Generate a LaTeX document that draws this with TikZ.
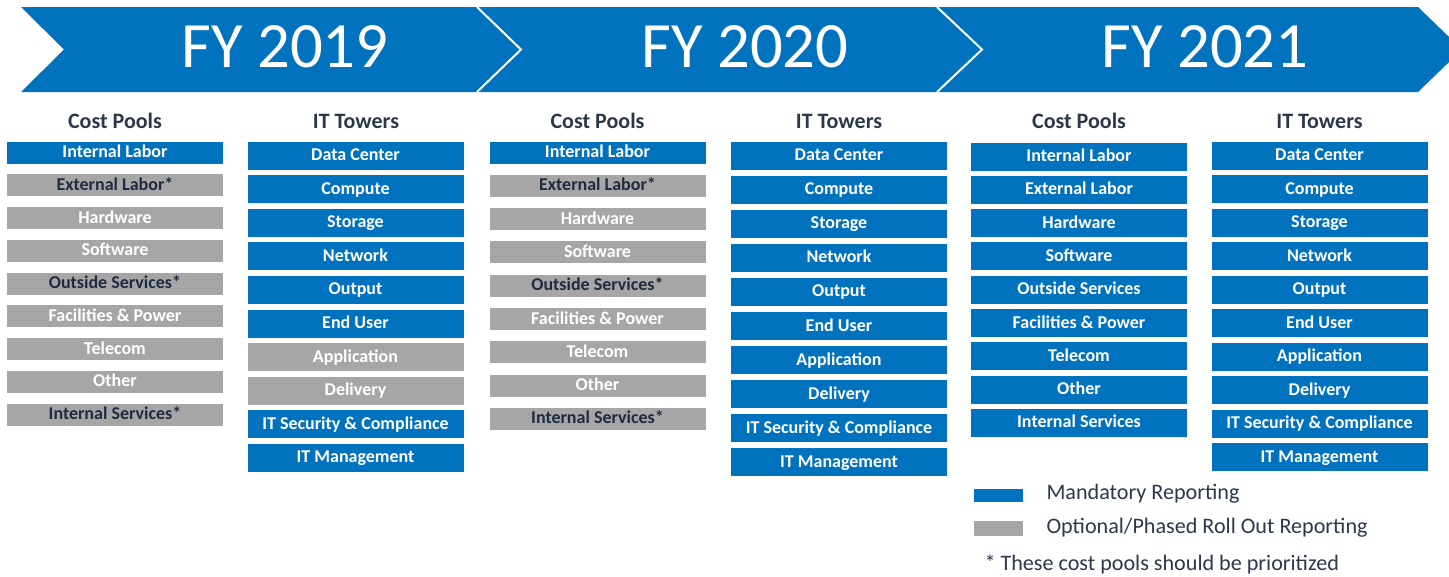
\documentclass[tikz,border=0pt]{standalone}
\usepackage{fontspec}
\setmainfont{Carlito}

\definecolor{fyblue}{RGB}{0,114,190}
\definecolor{fygray}{RGB}{166,166,166}
\definecolor{navytext}{RGB}{31,43,62}
\definecolor{slatetext}{RGB}{44,56,74}

\tikzset{every picture/.style={line width=0.75pt}}
\tikzset{
  mandbox/.style={fill=fyblue, text=white, font=\bfseries\fontsize{13.5}{15}\selectfont, minimum width=162pt, inner sep=0pt, text height=8.5pt, text depth=1pt},
  optbox/.style={mandbox, fill=fygray},
  optstar/.style={optbox, text=navytext},
  poolh/.style={minimum height=16.5pt},
  towerh/.style={minimum height=21pt},
  colhead/.style={font=\bfseries\fontsize{16.5}{18}\selectfont, text=slatetext, inner sep=0pt},
  yearlabel/.style={font=\fontsize{48.5}{50}\selectfont, text=white, anchor=base, inner sep=0pt},
  legendtext/.style={font=\fontsize{16.6}{18}\selectfont, text=slatetext, anchor=west, inner sep=0pt}
}

\begin{document}
\begin{tikzpicture}[x=0.75pt,y=0.75pt,yscale=-1,xscale=1]
\useasboundingbox (0,0) rectangle (1449,576);

% Chevron band
\fill[fyblue] (21,7) -- (1418,7) -- (1462,49.5) -- (1418,92) -- (21,92) -- (64,49.5) -- cycle;
\draw[white, line width=1.5pt] (477,7) -- (521,49.5) -- (477,92);
\draw[white, line width=1.5pt] (937,7) -- (982,49.5) -- (937,92);
% Text Node
\node[yearlabel] (fy19) at (285,67) {FY 2019};
\node[yearlabel] (fy20) at (745,67) {FY 2020};
\node[yearlabel] (fy21) at (1205,67) {FY 2021};

% Column headers
\node[colhead] (hcp19) at (115,121) {Cost Pools};
\node[colhead] (hit19) at (356,121) {IT Towers};
\node[colhead] (hcp20) at (597.5,121) {Cost Pools};
\node[colhead] (hit20) at (839,121) {IT Towers};
\node[colhead] (hcp21) at (1079,121) {Cost Pools};
\node[colhead] (hit21) at (1319.5,121) {IT Towers};

% Cost Pools FY 2019
\node[mandbox, poolh] (cp19a) at (115,152.5) {Internal Labor};
\node[optstar, poolh] (cp19b) at (115,185.25) {External Labor*};
\node[optbox, poolh] (cp19c) at (115,218) {Hardware};
\node[optbox, poolh] (cp19d) at (115,250.75) {Software};
\node[optstar, poolh] (cp19e) at (115,283.5) {Outside Services*};
\node[optbox, poolh] (cp19f) at (115,316.25) {Facilities \& Power};
\node[optbox, poolh] (cp19g) at (115,349) {Telecom};
\node[optbox, poolh] (cp19h) at (115,381.75) {Other};
\node[optstar, poolh] (cp19i) at (115,414.5) {Internal Services*};

% IT Towers FY 2019
\node[mandbox, towerh] (it19a) at (355.5,155.5) {Data Center};
\node[mandbox, towerh] (it19b) at (355.5,189.1) {Compute};
\node[mandbox, towerh] (it19c) at (355.5,222.7) {Storage};
\node[mandbox, towerh] (it19d) at (355.5,256.3) {Network};
\node[mandbox, towerh] (it19e) at (355.5,289.9) {Output};
\node[mandbox, towerh] (it19f) at (355.5,323.5) {End User};
\node[optbox, towerh] (it19g) at (355.5,357.1) {Application};
\node[optbox, towerh] (it19h) at (355.5,390.7) {Delivery};
\node[mandbox, towerh] (it19i) at (355.5,424.3) {IT Security \& Compliance};
\node[mandbox, towerh] (it19j) at (355.5,457.9) {IT Management};

% Cost Pools FY 2020
\node[mandbox, poolh] (cp20a) at (597.5,152.5) {Internal Labor};
\node[optstar, poolh] (cp20b) at (597.5,185.8) {External Labor*};
\node[optbox, poolh] (cp20c) at (597.5,219.1) {Hardware};
\node[optbox, poolh] (cp20d) at (597.5,252.4) {Software};
\node[optstar, poolh] (cp20e) at (597.5,285.7) {Outside Services*};
\node[optbox, poolh] (cp20f) at (597.5,319) {Facilities \& Power};
\node[optbox, poolh] (cp20g) at (597.5,352.3) {Telecom};
\node[optbox, poolh] (cp20h) at (597.5,385.6) {Other};
\node[optstar, poolh] (cp20i) at (597.5,418.9) {Internal Services*};

% IT Towers FY 2020
\node[mandbox, towerh] (it20a) at (839,155.5) {Data Center};
\node[mandbox, towerh] (it20b) at (839,189.6) {Compute};
\node[mandbox, towerh] (it20c) at (839,223.7) {Storage};
\node[mandbox, towerh] (it20d) at (839,257.8) {Network};
\node[mandbox, towerh] (it20e) at (839,291.9) {Output};
\node[mandbox, towerh] (it20f) at (839,326) {End User};
\node[mandbox, towerh] (it20g) at (839,360.1) {Application};
\node[mandbox, towerh] (it20h) at (839,394.2) {Delivery};
\node[mandbox, towerh] (it20i) at (839,428.3) {IT Security \& Compliance};
\node[mandbox, towerh] (it20j) at (839,462.4) {IT Management};

% Cost Pools FY 2021
\node[mandbox, towerh] (cp21a) at (1079,156.5) {Internal Labor};
\node[mandbox, towerh] (cp21b) at (1079,189.8) {External Labor};
\node[mandbox, towerh] (cp21c) at (1079,223.1) {Hardware};
\node[mandbox, towerh] (cp21d) at (1079,256.4) {Software};
\node[mandbox, towerh] (cp21e) at (1079,289.7) {Outside Services};
\node[mandbox, towerh] (cp21f) at (1079,323) {Facilities \& Power};
\node[mandbox, towerh] (cp21g) at (1079,356.3) {Telecom};
\node[mandbox, towerh] (cp21h) at (1079,389.6) {Other};
\node[mandbox, towerh] (cp21i) at (1079,422.9) {Internal Services};

% IT Towers FY 2021
\node[mandbox, towerh] (it21a) at (1319.5,155.5) {Data Center};
\node[mandbox, towerh] (it21b) at (1319.5,189) {Compute};
\node[mandbox, towerh] (it21c) at (1319.5,222.5) {Storage};
\node[mandbox, towerh] (it21d) at (1319.5,256) {Network};
\node[mandbox, towerh] (it21e) at (1319.5,289.5) {Output};
\node[mandbox, towerh] (it21f) at (1319.5,323) {End User};
\node[mandbox, towerh] (it21g) at (1319.5,356.5) {Application};
\node[mandbox, towerh] (it21h) at (1319.5,390) {Delivery};
\node[mandbox, towerh] (it21i) at (1319.5,423.5) {IT Security \& Compliance};
\node[mandbox, towerh] (it21j) at (1319.5,457) {IT Management};

% Legend
\node[mandbox, minimum width=36.75pt, minimum height=9.75pt] (legmand) at (998.5,495.5) {};
\node[optbox, minimum width=36.75pt, minimum height=11.25pt] (legopt) at (998.5,528.5) {};
\node[legendtext] (legmandtxt) at (1046,494) {Mandatory Reporting};
\node[legendtext] (legopttxt) at (1046,528) {Optional/Phased Roll Out Reporting};
\node[legendtext] (legnote) at (984,564) {* These cost pools should be prioritized};

\end{tikzpicture}
\end{document}
